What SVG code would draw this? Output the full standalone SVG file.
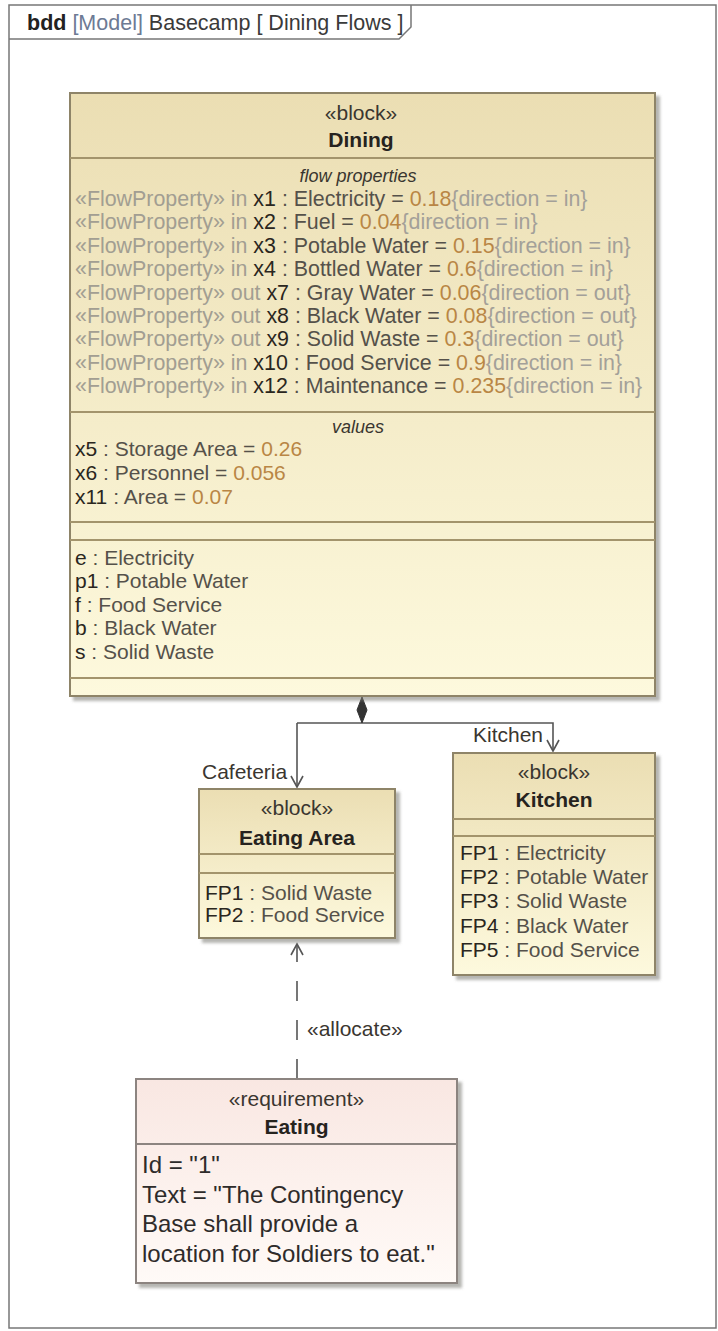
<svg xmlns="http://www.w3.org/2000/svg" width="718" height="1331" viewBox="0 0 718 1331">
<style>
text{font-family:"Liberation Sans",Arial,sans-serif;font-size:21px;fill:#3a3630}
.hdr{font-size:21.5px}
.st{fill:#3a3630}
.nm{font-weight:bold;fill:#26231e}
.cmp{font-style:italic;font-size:18px;fill:#3a3630}
.fr{font-size:21.4px}
.sg{fill:#a29e92}
.n{fill:#2a2620}
.t{fill:#55514a}
.v{fill:#b98645}
.c{fill:#a3a099}
.rq{font-size:24px;fill:#2e2b2a}
.blk{stroke:#8e8468;stroke-width:2}
.sep{stroke:#a3946c;stroke-width:2}
.conn{stroke:#555;stroke-width:1.6;fill:none}
</style>
<defs>
<linearGradient id="gBlock" x1="0" y1="0" x2="0" y2="1">
<stop offset="0" stop-color="#ebdeb3"/>
<stop offset="1" stop-color="#fdf9dd"/>
</linearGradient>
<linearGradient id="gReq" x1="0" y1="0" x2="0" y2="1">
<stop offset="0" stop-color="#f9e7e2"/>
<stop offset="1" stop-color="#fffaf7"/>
</linearGradient>
<filter id="sh" x="-5%" y="-5%" width="115%" height="115%">
<feDropShadow dx="4" dy="4" stdDeviation="1.5" flood-color="#7a7a72" flood-opacity="0.55"/>
</filter>
<marker id="open" markerWidth="16" markerHeight="16" refX="12" refY="7" orient="auto" markerUnits="userSpaceOnUse">
<path d="M1,1 L12,7 L1,13" fill="none" stroke="#555" stroke-width="1.6"/>
</marker>
</defs>

<g id="frame">
<rect x="9" y="5" width="707" height="1323" fill="#fff" stroke="#777" stroke-width="1.5"/>
<path d="M9,39 H399 L411,27 V5" fill="none" stroke="#777" stroke-width="1.5"/>
<text x="27" y="30" class="hdr"><tspan font-weight="bold" fill="#222">bdd</tspan><tspan fill="#6d7a94"> [Model]</tspan><tspan fill="#3a3a3a"> Basecamp [ Dining Flows ]</tspan></text>
</g>

<g id="connectors">
<path class="conn" d="M297,723 H553 V751" marker-end="url(#open)"/>
<path class="conn" d="M297,723 V787" marker-end="url(#open)"/>
<polygon points="362,697 367,710 362,723 357,710" fill="#333" stroke="#333" stroke-width="1"/>
<text x="473" y="742" fill="#3a3a3a">Kitchen</text>
<text x="202" y="779" fill="#3a3a3a">Cafeteria</text>
<path class="conn" d="M297,1079 V944" stroke-dasharray="20,19" marker-end="url(#open)"/>
<text x="307" y="1036" fill="#3a3a3a">«allocate»</text>
</g>

<g id="dining">
<rect x="70" y="93" width="585" height="603" fill="url(#gBlock)" class="blk" filter="url(#sh)"/>
<line x1="70" y1="158" x2="655" y2="158" class="sep"/>
<line x1="70" y1="412" x2="655" y2="412" class="sep"/>
<line x1="70" y1="522" x2="655" y2="522" class="sep"/>
<line x1="70" y1="540" x2="655" y2="540" class="sep"/>
<line x1="70" y1="678" x2="655" y2="678" class="sep"/>
<text x="361" y="120" text-anchor="middle" class="st">«block»</text>
<text x="361" y="147" text-anchor="middle" class="nm">Dining</text>
<text x="358" y="182" text-anchor="middle" class="cmp">flow properties</text>
<text x="75" y="206" class="fr"><tspan class="sg">«FlowProperty» in </tspan><tspan class="n">x1</tspan><tspan class="t"> : Electricity = </tspan><tspan class="v">0.18</tspan><tspan class="c">{direction = in}</tspan></text>
<text x="75" y="229.4" class="fr"><tspan class="sg">«FlowProperty» in </tspan><tspan class="n">x2</tspan><tspan class="t"> : Fuel = </tspan><tspan class="v">0.04</tspan><tspan class="c">{direction = in}</tspan></text>
<text x="75" y="252.8" class="fr"><tspan class="sg">«FlowProperty» in </tspan><tspan class="n">x3</tspan><tspan class="t"> : Potable Water = </tspan><tspan class="v">0.15</tspan><tspan class="c">{direction = in}</tspan></text>
<text x="75" y="276.2" class="fr"><tspan class="sg">«FlowProperty» in </tspan><tspan class="n">x4</tspan><tspan class="t"> : Bottled Water = </tspan><tspan class="v">0.6</tspan><tspan class="c">{direction = in}</tspan></text>
<text x="75" y="299.6" class="fr"><tspan class="sg">«FlowProperty» out </tspan><tspan class="n">x7</tspan><tspan class="t"> : Gray Water = </tspan><tspan class="v">0.06</tspan><tspan class="c">{direction = out}</tspan></text>
<text x="75" y="323" class="fr"><tspan class="sg">«FlowProperty» out </tspan><tspan class="n">x8</tspan><tspan class="t"> : Black Water = </tspan><tspan class="v">0.08</tspan><tspan class="c">{direction = out}</tspan></text>
<text x="75" y="346.4" class="fr"><tspan class="sg">«FlowProperty» out </tspan><tspan class="n">x9</tspan><tspan class="t"> : Solid Waste = </tspan><tspan class="v">0.3</tspan><tspan class="c">{direction = out}</tspan></text>
<text x="75" y="369.8" class="fr"><tspan class="sg">«FlowProperty» in </tspan><tspan class="n">x10</tspan><tspan class="t"> : Food Service = </tspan><tspan class="v">0.9</tspan><tspan class="c">{direction = in}</tspan></text>
<text x="75" y="393.2" class="fr"><tspan class="sg">«FlowProperty» in </tspan><tspan class="n">x12</tspan><tspan class="t"> : Maintenance = </tspan><tspan class="v">0.235</tspan><tspan class="c">{direction = in}</tspan></text>
<text x="358" y="433" text-anchor="middle" class="cmp">values</text>
<text x="75" y="456"><tspan class="n">x5</tspan><tspan class="t"> : Storage Area = </tspan><tspan class="v">0.26</tspan></text>
<text x="75" y="480"><tspan class="n">x6</tspan><tspan class="t"> : Personnel = </tspan><tspan class="v">0.056</tspan></text>
<text x="75" y="504"><tspan class="n">x11</tspan><tspan class="t"> : Area = </tspan><tspan class="v">0.07</tspan></text>
<text x="75" y="565"><tspan class="n">e</tspan><tspan class="t"> : Electricity</tspan></text>
<text x="75" y="588.4"><tspan class="n">p1</tspan><tspan class="t"> : Potable Water</tspan></text>
<text x="75" y="611.8"><tspan class="n">f</tspan><tspan class="t"> : Food Service</tspan></text>
<text x="75" y="635.2"><tspan class="n">b</tspan><tspan class="t"> : Black Water</tspan></text>
<text x="75" y="658.6"><tspan class="n">s</tspan><tspan class="t"> : Solid Waste</tspan></text>
</g>

<g id="eating-area">
<rect x="199" y="789" width="196" height="149" fill="url(#gBlock)" class="blk" filter="url(#sh)"/>
<line x1="199" y1="854" x2="395" y2="854" class="sep"/>
<line x1="199" y1="873" x2="395" y2="873" class="sep"/>
<text x="297" y="815" text-anchor="middle" class="st">«block»</text>
<text x="297" y="845" text-anchor="middle" class="nm">Eating Area</text>
<text x="205" y="900"><tspan class="n">FP1</tspan><tspan class="t"> : Solid Waste</tspan></text>
<text x="205" y="922"><tspan class="n">FP2</tspan><tspan class="t"> : Food Service</tspan></text>
</g>

<g id="kitchen">
<rect x="453" y="753" width="202" height="222" fill="url(#gBlock)" class="blk" filter="url(#sh)"/>
<line x1="453" y1="819" x2="655" y2="819" class="sep"/>
<line x1="453" y1="836" x2="655" y2="836" class="sep"/>
<text x="554" y="779" text-anchor="middle" class="st">«block»</text>
<text x="554" y="807" text-anchor="middle" class="nm">Kitchen</text>
<text x="460" y="860"><tspan class="n">FP1</tspan><tspan class="t"> : Electricity</tspan></text>
<text x="460" y="884.2"><tspan class="n">FP2</tspan><tspan class="t"> : Potable Water</tspan></text>
<text x="460" y="908.4"><tspan class="n">FP3</tspan><tspan class="t"> : Solid Waste</tspan></text>
<text x="460" y="932.6"><tspan class="n">FP4</tspan><tspan class="t"> : Black Water</tspan></text>
<text x="460" y="956.8"><tspan class="n">FP5</tspan><tspan class="t"> : Food Service</tspan></text>
</g>

<g id="requirement-eating">
<rect x="136" y="1079" width="321" height="204" fill="url(#gReq)" stroke="#8c8480" stroke-width="2" filter="url(#sh)"/>
<line x1="136" y1="1144" x2="457" y2="1144" stroke="#8c8480" stroke-width="2"/>
<text x="296.5" y="1106" text-anchor="middle" class="st">«requirement»</text>
<text x="296.5" y="1134" text-anchor="middle" class="nm">Eating</text>
<text x="142" y="1173" class="rq">Id = "1"</text>
<text x="142" y="1202.5" class="rq">Text = "The Contingency</text>
<text x="142" y="1232" class="rq">Base shall provide a</text>
<text x="142" y="1261.5" class="rq">location for Soldiers to eat."</text>
</g>
</svg>
